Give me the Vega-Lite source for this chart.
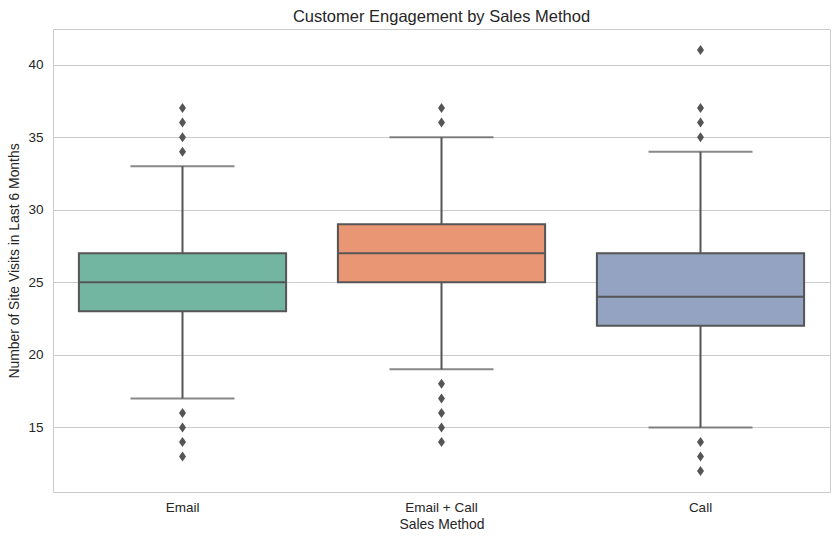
{
  "$schema": "https://vega.github.io/schema/vega-lite/v6.json",
  "width": 777,
  "height": 463,
  "autosize": {"type": "none"},
  "padding": {"left": 53, "top": 29, "right": 7, "bottom": 49},
  "background": "white",
  "title": {
    "text": "Customer Engagement by Sales Method",
    "font": "Liberation Sans",
    "fontSize": 16.5,
    "fontWeight": "normal",
    "color": "#262626",
    "frame": "group",
    "baseline": "bottom",
    "offset": 5,
    "dy": 17
  },
  "config": {
    "view": {"stroke": "#cccccc", "strokeWidth": 1},
    "axis": {
      "labelFont": "Liberation Sans",
      "titleFont": "Liberation Sans",
      "labelColor": "#262626",
      "titleColor": "#262626",
      "labelFontSize": 13.5,
      "titleFontSize": 13.9,
      "titleFontWeight": "normal",
      "ticks": false,
      "tickSize": 0,
      "domain": false,
      "gridColor": "#cccccc",
      "gridWidth": 1
    }
  },
  "datasets": {
    "boxes": [
      {"method": "Email", "lower": 17, "q1": 23, "median": 25, "q3": 27, "upper": 33},
      {"method": "Email + Call", "lower": 19, "q1": 25, "median": 27, "q3": 29, "upper": 35},
      {"method": "Call", "lower": 15, "q1": 22, "median": 24, "q3": 27, "upper": 34}
    ],
    "outliers": [
      {"method": "Email", "value": 34},
      {"method": "Email", "value": 35},
      {"method": "Email", "value": 36},
      {"method": "Email", "value": 37},
      {"method": "Email", "value": 16},
      {"method": "Email", "value": 15},
      {"method": "Email", "value": 14},
      {"method": "Email", "value": 13},
      {"method": "Email + Call", "value": 36},
      {"method": "Email + Call", "value": 37},
      {"method": "Email + Call", "value": 18},
      {"method": "Email + Call", "value": 17},
      {"method": "Email + Call", "value": 16},
      {"method": "Email + Call", "value": 15},
      {"method": "Email + Call", "value": 14},
      {"method": "Call", "value": 35},
      {"method": "Call", "value": 36},
      {"method": "Call", "value": 37},
      {"method": "Call", "value": 41},
      {"method": "Call", "value": 14},
      {"method": "Call", "value": 13},
      {"method": "Call", "value": 12}
    ]
  },
  "encoding": {
    "x": {
      "field": "method",
      "type": "nominal",
      "sort": ["Email", "Email + Call", "Call"],
      "scale": {"paddingInner": 0, "paddingOuter": 0},
      "axis": {"title": "Sales Method", "labelAngle": 0, "labelPadding": 8, "titlePadding": 4, "grid": false}
    }
  },
  "layer": [
    {
      "data": {"name": "boxes"},
      "mark": {"type": "rule", "color": "#555555", "strokeWidth": 2},
      "encoding": {
        "y": {
          "field": "lower",
          "type": "quantitative",
          "scale": {"domain": [10.55, 42.45], "nice": false, "zero": false},
          "axis": {"title": "Number of Site Visits in Last 6 Months", "values": [15, 20, 25, 30, 35, 40], "labelPadding": 10, "titlePadding": 6, "grid": true}
        },
        "y2": {"field": "upper"}
      }
    },
    {
      "data": {"name": "boxes"},
      "mark": {"type": "tick", "color": "#555555", "thickness": 2, "size": 104},
      "encoding": {"y": {"field": "lower", "type": "quantitative"}}
    },
    {
      "data": {"name": "boxes"},
      "mark": {"type": "tick", "color": "#555555", "thickness": 2, "size": 104},
      "encoding": {"y": {"field": "upper", "type": "quantitative"}}
    },
    {
      "data": {"name": "boxes"},
      "mark": {"type": "bar", "width": {"band": 0.8}, "stroke": "#555555", "strokeWidth": 2, "opacity": 1},
      "encoding": {
        "y": {"field": "q1", "type": "quantitative"},
        "y2": {"field": "q3"},
        "color": {
          "field": "method",
          "type": "nominal",
          "scale": {"domain": ["Email", "Email + Call", "Call"], "range": ["#72b6a1", "#e99675", "#95a3c3"]},
          "legend": null
        }
      }
    },
    {
      "data": {"name": "boxes"},
      "mark": {"type": "tick", "color": "#555555", "thickness": 2, "size": 207, "opacity": 1},
      "encoding": {"y": {"field": "median", "type": "quantitative"}}
    },
    {
      "data": {"name": "outliers"},
      "mark": {"type": "point", "shape": "M0,-1L0.7,0L0,1L-0.7,0Z", "filled": true, "color": "#555555", "size": 100, "opacity": 1},
      "encoding": {"y": {"field": "value", "type": "quantitative"}}
    }
  ]
}
